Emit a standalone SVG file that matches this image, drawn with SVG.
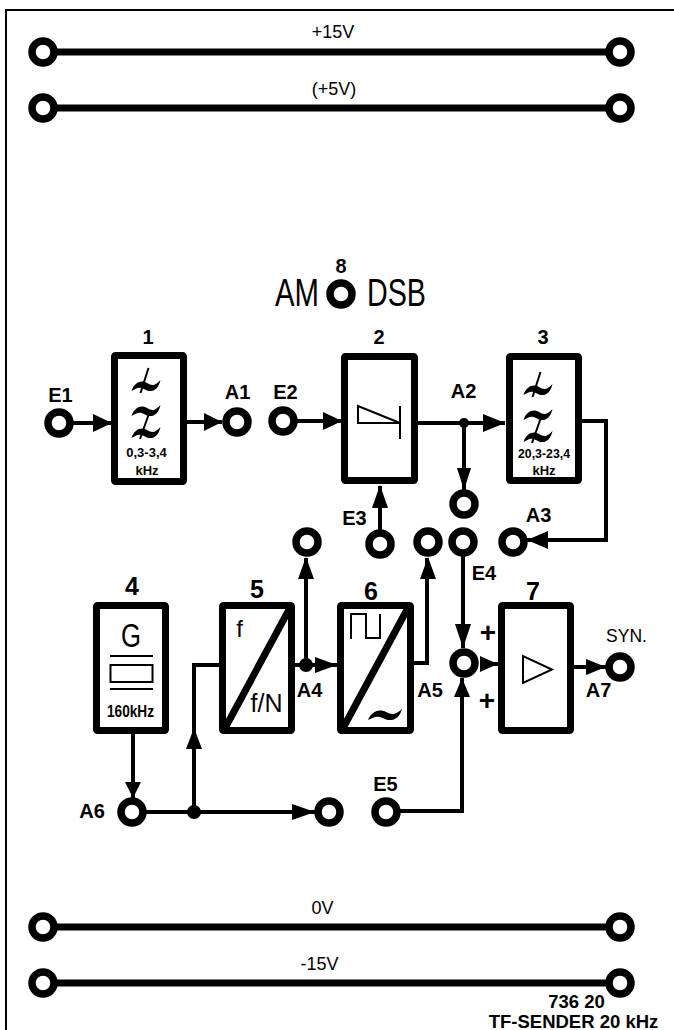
<svg xmlns="http://www.w3.org/2000/svg" width="674" height="1030" viewBox="0 0 674 1030">
<style>
text{font-family:"Liberation Sans",Arial,sans-serif;fill:#000;text-anchor:middle}
.b{font-weight:bold}
.l{font-size:20px;font-weight:bold}
.n{font-size:20px;font-weight:bold}
.m{font-size:25px;font-weight:bold}
.r{font-size:18px}
.t{fill:#fff;stroke:#000;stroke-width:7.500}
.box{fill:#fff;stroke:#000;stroke-width:7;stroke-linejoin:round}
.w{fill:none;stroke:#000;stroke-width:4;stroke-linejoin:miter}
.rail{stroke:#000;stroke-width:7;fill:none}
.s{fill:none;stroke:#000;stroke-width:2}
</style>
<defs>
<path id="tilde" fill="#000" d="M-14.500 5C-11 -5 -4 -6 1 -3S9 0 14.500 -6C12 5 5 7 -1 3.500S-9 2 -14.500 5Z"/>
<g id="lp"><use href="#tilde" y="0"/><path class="s" stroke-width="2.500" d="M2.500 -18L-5.500 7"/><use href="#tilde" y="25"/><use href="#tilde" y="47"/><path class="s" d="M2.500 29L-6 53"/></g>
</defs>
<path id="frame" d="M6 1030V10H674" fill="none" stroke="#000" stroke-width="2"/>
<g id="connectors">
<path class="rail" d="M43 52H620M43 108H620M43 927H620M43 983H620"/>
<path class="w" d="M59 423H112M187 422H222M283 421H342M418 423H505M464 423V490M380 544V486M582 421H606V540H527M133 734V798M132 812H315M194 812V665H220M295 665H337M306 665V558M414 663H427V558M386 811H462V678M463 542V648M480 664H498M574 667H606"/>
<g fill="#000">
<path d="M112 423L93 414V432Z"/>
<path d="M222 422L204 413V431Z"/>
<path d="M342 421L323 412V430Z"/>
<path d="M505 423L483 414V432Z"/>
<path d="M464 490L457 468H471Z"/>
<path d="M380 485L372 508H388Z"/>
<path d="M527 540L548 531V549Z"/>
<path d="M133 798L125 782H141Z"/>
<path d="M194 728L186 749H202Z"/>
<path d="M315 812L292 804V820Z"/>
<path d="M306 557L298 579H314Z"/>
<path d="M428 557L420 579H436Z"/>
<path d="M337 665L315 657V673Z"/>
<path d="M463 648L455 624H471Z"/>
<path d="M462 678L454 697H470Z"/>
<path d="M498 664L480 656V672Z"/>
<path d="M606 667L586 659V675Z"/>
<circle cx="464" cy="423" r="5"/>
<circle cx="194" cy="812" r="7"/>
<circle cx="306" cy="665" r="7"/>
</g>
</g>
<g id="rail-p15"><circle class="t" cx="43" cy="52" r="11"/><circle class="t" cx="620" cy="52" r="11"/><text class="r" x="333" y="38">+15V</text></g>
<g id="rail-p5"><circle class="t" cx="43" cy="108" r="11"/><circle class="t" cx="620" cy="108" r="11"/><text class="r" x="334" y="95">(+5V)</text></g>
<g id="rail-0"><circle class="t" cx="43" cy="927" r="11"/><circle class="t" cx="620" cy="927" r="11"/><text class="r" x="322.500" y="914">0V</text></g>
<g id="rail-m15"><circle class="t" cx="43" cy="983" r="11"/><circle class="t" cx="620" cy="983" r="11"/><text class="r" x="319.500" y="970">-15V</text></g>
<g id="node-8"><circle class="t" cx="341" cy="294" r="11"/><text class="n" x="341" y="273">8</text>
<text x="297" y="306" font-size="39" textLength="44" lengthAdjust="spacingAndGlyphs">AM</text>
<text x="396.500" y="306" font-size="39" textLength="59" lengthAdjust="spacingAndGlyphs">DSB</text></g>
<g id="node-1"><rect class="box" x="114.500" y="355.500" width="69" height="126" rx="1"/><use href="#lp" x="146" y="386"/>
<text class="n" x="148" y="344">1</text>
<text class="b" x="146.500" y="457" font-size="13">0,3-3,4</text><text class="b" x="147" y="475" font-size="13">kHz</text></g>
<g id="node-2"><rect class="box" x="344.500" y="356.500" width="70" height="124" rx="1"/>
<path class="s" d="M400 423H358V406L400 423M400 406V439"/>
<text class="n" x="379" y="344">2</text></g>
<g id="node-3"><rect class="box" x="509.500" y="356.500" width="69" height="124" rx="1"/><use href="#lp" x="538" y="390"/>
<text class="n" x="543" y="344">3</text>
<text class="b" x="544" y="458" font-size="13" textLength="52" lengthAdjust="spacingAndGlyphs">20,3-23,4</text><text class="b" x="544" y="475" font-size="13">kHz</text></g>
<g id="node-4"><rect class="box" x="96.500" y="605.500" width="69" height="125" rx="1"/>
<text x="131" y="647" font-size="33" textLength="20" lengthAdjust="spacingAndGlyphs">G</text>
<path class="s" d="M110 656H153M110 689H153"/><rect class="s" x="110.500" y="665" width="42" height="17"/>
<text class="b" x="130.500" y="717" font-size="17" textLength="47" lengthAdjust="spacingAndGlyphs">160kHz</text>
<text class="m" x="132" y="595">4</text></g>
<g id="node-5"><rect class="box" x="222.500" y="605.500" width="69" height="125" rx="1"/>
<path stroke="#000" stroke-width="7" d="M224 730L291 606"/>
<text x="239.500" y="637" font-size="24">f</text>
<text x="266.500" y="712" font-size="25">f/N</text>
<text class="m" x="257" y="598">5</text></g>
<g id="node-6"><rect class="box" x="340.500" y="605.500" width="70" height="125" rx="1"/>
<path stroke="#000" stroke-width="7" d="M342 730L409 606"/>
<path class="s" d="M351 639V614H366V638H380V614"/>
<use href="#tilde" transform="translate(385 715) scale(1.170 1)"/>
<text class="m" x="371" y="600">6</text></g>
<g id="node-7"><rect class="box" x="501.500" y="605.500" width="69" height="125" rx="1"/>
<path class="s" d="M523 656V683L552 669.500Z"/>
<text class="m" x="533" y="600">7</text></g>
<g id="terminals">
<circle class="t" cx="59" cy="423" r="11"/><text class="l" x="60.500" y="402">E1</text>
<circle class="t" cx="237" cy="422" r="11"/><text class="l" x="237.500" y="399">A1</text>
<circle class="t" cx="283" cy="421" r="11"/><text class="l" x="285.500" y="399">E2</text>
<text class="l" x="463.500" y="398">A2</text>
<circle class="t" cx="464" cy="504" r="11"/>
<circle class="t" cx="380" cy="544" r="11"/><text class="l" x="354.500" y="525">E3</text>
<circle class="t" cx="307" cy="542" r="11"/>
<circle class="t" cx="428" cy="542" r="11"/>
<circle class="t" cx="463" cy="542" r="11"/><text class="l" x="484" y="580">E4</text>
<circle class="t" cx="513" cy="542" r="11"/><text class="l" x="538.500" y="522">A3</text>
<text class="l" x="309.500" y="697">A4</text>
<text class="l" x="430" y="697">A5</text>
<circle class="t" cx="464" cy="663" r="11"/>
<text class="b" x="488" y="642" font-size="28">+</text><text class="b" x="487" y="710" font-size="28">+</text>
<circle class="t" cx="620" cy="667" r="11"/><text x="626.500" y="642" font-size="17.500">SYN.</text>
<text class="l" x="598.500" y="697">A7</text>
<circle class="t" cx="132" cy="812" r="11"/><text class="l" x="92" y="818">A6</text>
<circle class="t" cx="329" cy="812" r="11"/>
<circle class="t" cx="386" cy="812" r="11"/><text class="l" x="385.500" y="791">E5</text>
</g>
<g id="title"><text class="b" x="576.500" y="1008" font-size="18.500">736 20</text><text class="b" x="573.500" y="1028" font-size="18.500">TF-SENDER 20 kHz</text></g>
</svg>
